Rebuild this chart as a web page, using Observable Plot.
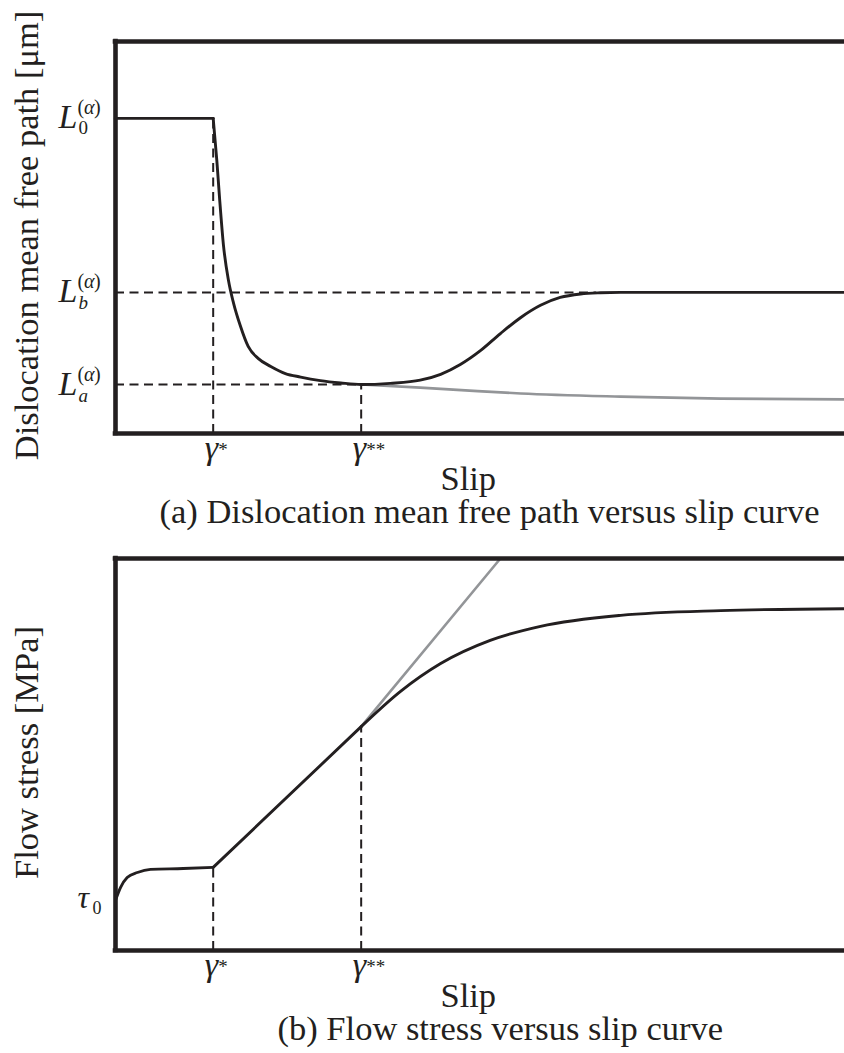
<!DOCTYPE html>
<html><head><meta charset="utf-8">
<script src="https://cdn.jsdelivr.net/npm/d3@7"></script>
<script src="https://cdn.jsdelivr.net/npm/@observablehq/plot@0.6"></script>
<style>
html,body{margin:0;padding:0;background:#fff;}
#chart svg{display:block;}
</style></head><body><div id="chart"></div>
<script>
const INK = "#231f20", GRAY = "#939598", FONT = "Liberation Serif, Times New Roman, serif";

// Shared x ticks (slip, arbitrary units 0-10)
const gammaX = [1.34, 3.37];
const gammaBase = ["γ", "γ"];
const gammaStars = ["*", "**"];

// Panel (a): dislocation mean free path (arbitrary units 0-10)
const aLevelY = [8.04, 3.60, 1.25];         // L0, Lb, La
const aLevelSub = ["0", "b", "a"];
const aFlatX = [0, 1.34];
const aFlatY = [8.04, 8.04];
const aCurveX = [1.34, 1.39, 1.43, 1.48, 1.55, 1.62, 1.71, 1.82, 1.96, 2.13, 2.33, 2.54, 2.81, 3.09, 3.37, 3.77, 4.18, 4.46, 4.73, 5.01, 5.28, 5.56, 5.83, 6.10, 6.38, 6.65, 6.93, 10];
const aCurveY = [8.04, 6.96, 5.94, 4.82, 3.90, 3.32, 2.76, 2.22, 1.91, 1.71, 1.53, 1.44, 1.35, 1.29, 1.25, 1.28, 1.36, 1.51, 1.76, 2.12, 2.55, 2.96, 3.27, 3.47, 3.56, 3.59, 3.60, 3.60];
const aGrayX = [3.37, 4.18, 4.80, 5.56, 6.93, 8.30, 10];
const aGrayY = [1.25, 1.17, 1.10, 1.02, 0.94, 0.89, 0.87];
const aDashH = [{y: 3.60, x2: 6.6}, {y: 1.25, x2: 3.37}];
const aDashV = [{x: 1.34, y2: 8.04}, {x: 3.37, y2: 1.25}];

// Panel (b): flow stress (arbitrary units 0-10)
const bLevelY = [1.22];                     // tau0
const bInitX = [0, 0.07, 0.16, 0.30, 0.48, 0.93, 1.34];
const bInitY = [1.28, 1.61, 1.86, 1.99, 2.07, 2.09, 2.12];
const bLinX = [1.34, 3.37];
const bLinY = [2.12, 5.71];
const bSatX = [3.37, 3.91, 4.46, 5.14, 5.83, 6.93, 8.30, 10];
const bSatY = [5.71, 6.61, 7.32, 7.91, 8.27, 8.55, 8.67, 8.72];
const bGrayX = [3.37, 5.28];
const bGrayY = [5.71, 10];
const bDashV = [{x: 1.34, y2: 2.12}, {x: 3.37, y2: 5.71}];

const xTitle = "Slip";
const yTitles = ["Dislocation mean free path [μm]", "Flow stress [MPa]"];
const captions = ["(a) Dislocation mean free path versus slip curve", "(b) Flow stress versus slip curve"];

const zip = (xs, ys) => xs.map((x, i) => ({x, y: ys[i]}));

function common(title, caption, captionDx) {
  return [
    Plot.ruleY([0, 10], {stroke: INK, strokeWidth: 4.6, strokeLinecap: "square"}),
    Plot.ruleX([0], {stroke: INK, strokeWidth: 4.6, strokeLinecap: "square"}),
    // gamma tick labels
    Plot.text(gammaX, {x: d => d, frameAnchor: "bottom", text: (d, i) => gammaBase[i], textAnchor: "end", lineAnchor: "bottom", dx: 5, dy: 25, fontSize: 34, fontStyle: "italic", fontFamily: FONT, fill: INK}),
    Plot.text(gammaX, {x: d => d, frameAnchor: "bottom", text: (d, i) => gammaStars[i], textAnchor: "start", lineAnchor: "bottom", dx: 5, dy: 22, fontSize: 19, fontFamily: FONT, fill: INK}),
    Plot.text([xTitle], {frameAnchor: "bottom-left", text: d => d, textAnchor: "start", lineAnchor: "bottom", dx: 325, dy: 56, fontSize: 34.5, fontFamily: FONT, fill: INK}),
    Plot.text([caption], {frameAnchor: "bottom-left", text: d => d, textAnchor: "start", lineAnchor: "bottom", dx: captionDx, dy: 89, fontSize: 34.5, fontFamily: FONT, fill: INK}),
    Plot.text([title], {frameAnchor: "left", text: d => d, rotate: -90, textAnchor: "middle", lineAnchor: "middle", dx: -89, dy: -2, fontSize: 34.5, fontFamily: FONT, fill: INK})
  ];
}

const dashStyle = {stroke: INK, strokeWidth: 2, strokeDasharray: "9,5.5"};
const lineStyle = {stroke: INK, strokeWidth: 2.9};

const plotA = Plot.plot({
  width: 844, height: 517, marginLeft: 115, marginRight: 0, marginTop: 41, marginBottom: 84,
  x: {domain: [0, 10], axis: null}, y: {domain: [0, 10], axis: null},
  style: {fontFamily: FONT, color: INK, background: "white", overflow: "visible"},
  marks: [
    Plot.ruleY(aDashH, {y: "y", x1: 0, x2: "x2", ...dashStyle}),
    Plot.ruleX(aDashV, {x: "x", y1: 0, y2: "y2", ...dashStyle}),
    Plot.line(zip(aGrayX, aGrayY), {x: "x", y: "y", curve: "monotone-x", stroke: GRAY, strokeWidth: 2.6}),
    Plot.line(zip(aFlatX, aFlatY), {x: "x", y: "y", ...lineStyle}),
    Plot.line(zip(aCurveX, aCurveY), {x: "x", y: "y", curve: "monotone-x", ...lineStyle}),
    // L labels
    Plot.text(aLevelY, {y: d => d, frameAnchor: "left", text: () => "L", textAnchor: "start", lineAnchor: "bottom", dx: -57, dy: 10, fontSize: 34, fontStyle: "italic", fontFamily: FONT, fill: INK}),
    Plot.text(aLevelY, {y: d => d, frameAnchor: "left", text: () => "(", textAnchor: "start", lineAnchor: "bottom", dx: -38, dy: -4, fontSize: 20, fontFamily: FONT, fill: INK}),
    Plot.text(aLevelY, {y: d => d, frameAnchor: "left", text: () => "α", textAnchor: "start", lineAnchor: "bottom", dx: -31.5, dy: -4, fontSize: 20, fontStyle: "italic", fontFamily: FONT, fill: INK}),
    Plot.text(aLevelY, {y: d => d, frameAnchor: "left", text: () => ")", textAnchor: "start", lineAnchor: "bottom", dx: -21.5, dy: -4, fontSize: 20, fontFamily: FONT, fill: INK}),
    Plot.text(aLevelY.slice(0, 1), {y: d => d, frameAnchor: "left", text: (d, i) => aLevelSub[i], textAnchor: "start", lineAnchor: "bottom", dx: -37, dy: 16, fontSize: 19, fontFamily: FONT, fill: INK}),
    Plot.text(aLevelY.slice(1), {y: d => d, frameAnchor: "left", text: (d, i) => aLevelSub[i + 1], textAnchor: "start", lineAnchor: "bottom", dx: -37, dy: 17, fontSize: 19, fontStyle: "italic", fontFamily: FONT, fill: INK}),
    ...common(yTitles[0], captions[0], 44)
  ]
});

const plotB = Plot.plot({
  width: 844, height: 536, marginLeft: 115, marginRight: 0, marginTop: 41, marginBottom: 103,
  x: {domain: [0, 10], axis: null}, y: {domain: [0, 10], axis: null},
  style: {fontFamily: FONT, color: INK, background: "white", overflow: "visible"},
  marks: [
    Plot.ruleX(bDashV, {x: "x", y1: 0, y2: "y2", ...dashStyle}),
    Plot.line(zip(bGrayX, bGrayY), {x: "x", y: "y", stroke: GRAY, strokeWidth: 2.6}),
    Plot.line(zip(bInitX, bInitY), {x: "x", y: "y", curve: "monotone-x", ...lineStyle}),
    Plot.line(zip(bLinX, bLinY), {x: "x", y: "y", ...lineStyle}),
    Plot.line(zip(bSatX, bSatY), {x: "x", y: "y", curve: "monotone-x", ...lineStyle}),
    Plot.text(bLevelY, {y: d => d, frameAnchor: "left", text: () => "τ", textAnchor: "start", lineAnchor: "bottom", dx: -38, dy: 5, fontSize: 32, fontStyle: "italic", fontFamily: FONT, fill: INK}),
    Plot.text(bLevelY, {y: d => d, frameAnchor: "left", text: () => "0", textAnchor: "start", lineAnchor: "bottom", dx: -23, dy: 11, fontSize: 18, fontFamily: FONT, fill: INK}),
    ...common(yTitles[1], captions[1], 162)
  ]
});

document.getElementById("chart").append(plotA, plotB);
</script></body></html>
